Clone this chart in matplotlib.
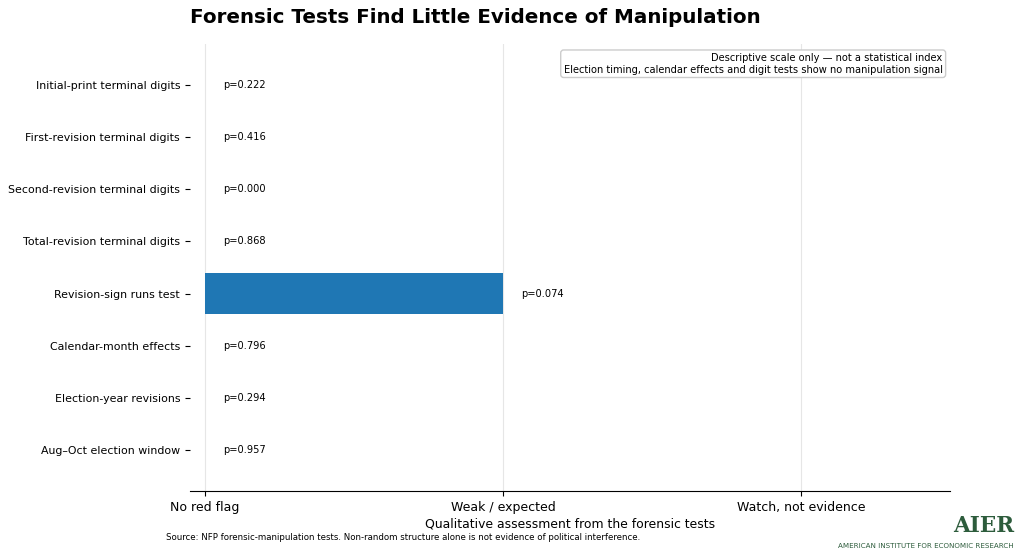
import numpy as np
import matplotlib
matplotlib.use("Agg")
import matplotlib.pyplot as plt

tests = ['Initial-print terminal digits', 'First-revision terminal digits',
         'Second-revision terminal digits', 'Total-revision terminal digits',
         'Revision-sign runs test', 'Calendar-month effects',
         'Election-year revisions', 'Aug\u2013Oct election window']
flag_level = [0, 0, 0, 0, 1, 0, 0, 0]
p_values = [0.222, 0.416, 0.000, 0.868, 0.074, 0.796, 0.294, 0.957]
level_labels = ['No red flag', 'Weak / expected', 'Watch, not evidence']

fig = plt.figure(figsize=(10.24, 5.57), dpi=100)
ax = fig.add_axes([0.1855, 0.1185, 0.7425, 0.8025])

y = np.arange(len(tests))
ax.barh(y, flag_level, height=0.8, color='#1f77b4', zorder=2)
for yi, v, p in zip(y, flag_level, p_values):
    ax.text(v + 0.06, yi, 'p=%.3f' % p, va='center', ha='left', fontsize=7.1)

ax.set_yticks(y)
ax.set_yticklabels(tests, fontsize=7.9)
ax.invert_yaxis()
ax.set_xlim(-0.05, 2.5)
ax.set_xticks([0, 1, 2])
ax.set_xticklabels(level_labels, fontsize=9)
ax.set_xlabel('Qualitative assessment from the forensic tests', fontsize=8.9, labelpad=3)
ax.grid(axis='x', color='#e6e6e6', linewidth=0.8, zorder=0)
ax.set_axisbelow(True)
for s in ['top', 'right', 'left']:
    ax.spines[s].set_visible(False)

ax.text(0.99, 0.98, 'Descriptive scale only \u2014 not a statistical index\n'
        'Election timing, calendar effects and digit tests show no manipulation signal',
        transform=ax.transAxes, ha='right', va='top', fontsize=7.1, multialignment='right',
        bbox=dict(boxstyle='round,pad=0.3', facecolor='white', edgecolor='#cccccc'))

fig.suptitle('Forensic Tests Find Little Evidence of Manipulation', fontsize=14.3,
             fontweight='bold', x=0.464, y=0.985)
fig.text(0.162, 0.031, 'Source: NFP forensic-manipulation tests. Non-random structure alone is not '
         'evidence of political interference.', fontsize=6.2)
fig.text(0.99, 0.036, 'AIER', fontsize=15.5, fontweight='bold', family='DejaVu Serif',
         color='#2d5c3c', ha='right', va='bottom')
fig.text(0.99, 0.014, 'AMERICAN INSTITUTE FOR ECONOMIC RESEARCH', fontsize=5.1,
         color='#2d5c3c', ha='right', va='bottom')

fig.savefig('out.png', dpi=100)
